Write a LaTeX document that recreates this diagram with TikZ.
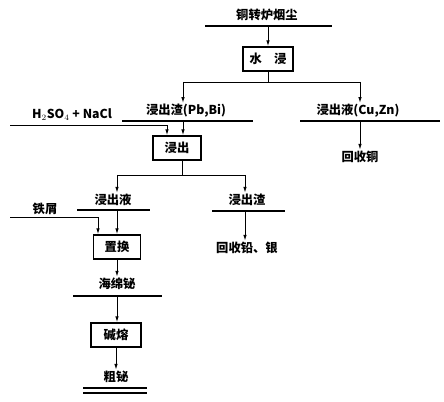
\documentclass[tikz,border=0pt]{standalone}
\usepackage{fontspec}
\setmainfont{Noto Sans CJK SC}
\usetikzlibrary{arrows.meta}

\begin{document}
\begin{tikzpicture}[x=0.03cm,y=-0.03cm,
    every node/.style={font=\fontsize{10.5}{12}\selectfont\bfseries,inner sep=1pt},
    procbox/.style={draw,line width=1.3pt,minimum width=1.5cm,minimum height=0.72cm},
    bar/.style={line width=1.6pt},
    flow/.style={line width=0.8pt,-{Latex[length=5pt,width=3pt]}}]
  \useasboundingbox (0,0) rectangle (444,402);
  % feed and water leaching
  \node (dust) at (267,15) {铜转炉烟尘};
  \draw[bar] (205,26) -- (332,26);
  \coordinate (dustout) at (268,26);
  \node[procbox] (water) at (268,59) {水\quad 浸};
  \draw[flow] (dustout) -- (water);
  \coordinate (wsplit) at (268,82);
  \coordinate (wL) at (183,82);
  \coordinate (wR) at (360,82);
  \draw[line width=0.8pt] (water.south) -- (wsplit);
  \draw[line width=0.8pt] (wL) -- (wR);
  \node (slag) at (186,111) {浸出渣(Pb,Bi)};
  \node (liq) at (358,111) {浸出液(Cu,Zn)};
  \draw[bar] (122,121) -- (253,121);
  \draw[bar] (300,121) -- (440,121);
  \coordinate (slagout) at (183,121);
  \coordinate (liqout) at (360,121);
  \draw[flow] (wL) -- (wL |- slag.north);
  \draw[flow] (wR) -- (wR |- liq.north);
  \node (cu) at (360,157) {回收铜};
  \draw[flow] (liqout) -- (cu);
  % leaching of the residue
  \node[procbox,minimum width=1.44cm] (leach) at (177,148) {浸出};
  \draw[flow] (slagout) -- (slagout |- leach.north);
  \node (acid) at (72,115) {H$_2$SO$_4$ + NaCl};
  \coordinate (acidin) at (10,125);
  \draw[flow] (acidin) -| ([xshift=-0.3cm]leach.north);
  \coordinate (lsplit) at (182,175);
  \coordinate (lL) at (117,175);
  \coordinate (lR) at (245,175);
  \draw[line width=0.8pt] (lsplit |- leach.south) -- (lsplit);
  \draw[line width=0.8pt] (lL) -- (lR);
  \node (liq2) at (113,200) {浸出液};
  \node (slag2) at (247,200) {浸出渣};
  \draw[bar] (77,210) -- (150,210);
  \draw[bar] (212,211) -- (285,211);
  \coordinate (liq2out) at (117,210);
  \coordinate (slag2out) at (245,211);
  \draw[flow] (lL) -- (lL |- liq2.north);
  \draw[flow] (lR) -- (lR |- slag2.north);
  \node (pbag) at (247,248) {回收铅、银};
  \draw[flow] (slag2out) -- (slag2out |- pbag.north);
  % cementation and fusion
  \node[procbox,minimum width=1.41cm] (cement) at (117,247) {置换};
  \draw[flow] (liq2out) -- (liq2out |- cement.north);
  \node (iron) at (45,209) {铁屑};
  \coordinate (ironin) at (10,217);
  \draw[flow] (ironin) -| ([xshift=-0.57cm]cement.north);
  \node (sponge) at (117,284) {海绵铋};
  \draw[flow] (cement) -- (sponge);
  \draw[bar] (73,296) -- (162,296);
  \coordinate (spongeout) at (117,296);
  \node[procbox] (fuse) at (116,335) {碱熔};
  \draw[flow] (spongeout) -- (spongeout |- fuse.north);
  \node (crude) at (116,377) {粗铋};
  \draw[flow] (fuse) -- (crude);
  \draw[bar] (83,388) -- (147,388);
  \draw[bar] (83,393) -- (147,393);
\end{tikzpicture}
\end{document}
